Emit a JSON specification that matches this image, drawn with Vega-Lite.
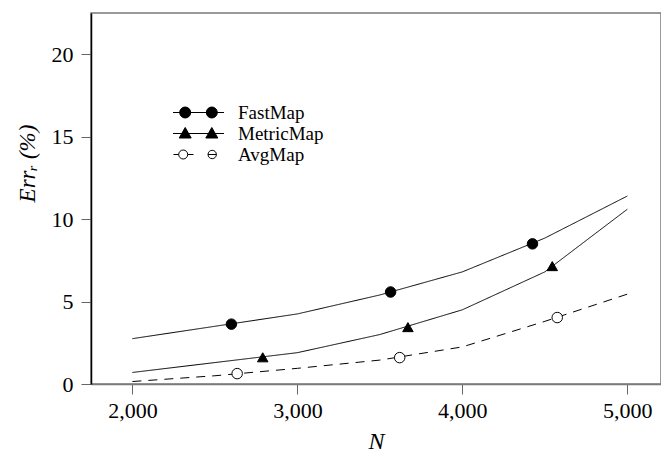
{
  "$schema": "https://vega.github.io/schema/vega-lite/v6.json",
  "autosize": "none",
  "width": 570,
  "height": 371,
  "padding": {"left": 91, "top": 13, "right": 0, "bottom": 81},
  "background": "white",
  "config": {
    "view": {"stroke": "#7a7a7a", "strokeWidth": 1.5},
    "font": "Liberation Serif",
    "axis": {
      "grid": false,
      "labelFont": "Liberation Serif",
      "labelFontSize": 22,
      "labelColor": "black",
      "tickColor": "#666666",
      "tickSize": 10,
      "tickWidth": 1,
      "titleFont": "Liberation Serif",
      "titleFontStyle": "italic",
      "titleFontWeight": "normal",
      "titleColor": "black"
    },
    "legend": {
      "labelFont": "Liberation Serif",
      "labelFontSize": 19,
      "labelColor": "black"
    }
  },
  "datasets": {
    "curve": [
      {"series": "FastMap", "N": 2000, "err": 2.75},
      {"series": "FastMap", "N": 2500, "err": 3.5},
      {"series": "FastMap", "N": 3000, "err": 4.25},
      {"series": "FastMap", "N": 3500, "err": 5.4},
      {"series": "FastMap", "N": 4000, "err": 6.8},
      {"series": "FastMap", "N": 4500, "err": 8.85},
      {"series": "FastMap", "N": 5000, "err": 11.4},
      {"series": "MetricMap", "N": 2000, "err": 0.7},
      {"series": "MetricMap", "N": 2500, "err": 1.3},
      {"series": "MetricMap", "N": 3000, "err": 1.9},
      {"series": "MetricMap", "N": 3500, "err": 3.0},
      {"series": "MetricMap", "N": 4000, "err": 4.5},
      {"series": "MetricMap", "N": 4500, "err": 6.8},
      {"series": "MetricMap", "N": 5000, "err": 10.6},
      {"series": "AvgMap", "N": 2000, "err": 0.15},
      {"series": "AvgMap", "N": 2500, "err": 0.5},
      {"series": "AvgMap", "N": 3000, "err": 0.95},
      {"series": "AvgMap", "N": 3500, "err": 1.45},
      {"series": "AvgMap", "N": 4000, "err": 2.25},
      {"series": "AvgMap", "N": 4500, "err": 3.8},
      {"series": "AvgMap", "N": 5000, "err": 5.45}
    ],
    "markers": [
      {"series": "FastMap", "N": 2600, "err": 3.63},
      {"series": "FastMap", "N": 3565, "err": 5.58},
      {"series": "FastMap", "N": 4425, "err": 8.5},
      {"series": "MetricMap", "N": 2790, "err": 1.62},
      {"series": "MetricMap", "N": 3670, "err": 3.45},
      {"series": "MetricMap", "N": 4545, "err": 7.15},
      {"series": "AvgMap", "N": 2635, "err": 0.63},
      {"series": "AvgMap", "N": 3620, "err": 1.6},
      {"series": "AvgMap", "N": 4575, "err": 4.03}
    ]
  },
  "encoding": {
    "x": {
      "field": "N",
      "type": "quantitative",
      "scale": {"domain": [1749, 5204], "nice": false, "zero": false},
      "axis": {
        "title": "N",
        "titleFontSize": 24,
        "titlePadding": 8,
        "values": [2000, 3000, 4000, 5000],
        "format": ",d",
        "labelPadding": 6,
        "domainColor": "#7a7a7a",
        "domainWidth": 1.5
      }
    },
    "y": {
      "field": "err",
      "type": "quantitative",
      "scale": {"domain": [0, 22.5], "nice": false},
      "axis": {
        "title": "Errᵣ (%)",
        "titleFontSize": 23,
        "titlePadding": 12,
        "titleY": 150,
        "values": [0, 5, 10, 15, 20],
        "labelPadding": 8,
        "domainColor": "black",
        "domainWidth": 1.5
      }
    }
  },
  "layer": [
    {
      "data": {"name": "curve"},
      "mark": {"type": "line", "color": "black", "strokeWidth": 1},
      "encoding": {
        "detail": {"field": "series"},
        "strokeDash": {"condition": {"test": "datum.series === 'AvgMap'", "value": [9, 7]}, "value": [1, 0]}
      }
    },
    {
      "data": {"name": "markers"},
      "mark": {"type": "point", "filled": true, "stroke": "black", "strokeWidth": 1, "size": 110, "opacity": 1},
      "encoding": {
        "shape": {"condition": {"test": "datum.series === 'MetricMap'", "value": "triangle-up"}, "value": "circle"},
        "fill": {"condition": {"test": "datum.series === 'AvgMap'", "value": "white"}, "value": "black"}
      }
    },
    {
      "data": {"name": "markers"},
      "mark": {"type": "point", "filled": true, "strokeWidth": 1, "size": 0, "opacity": 1},
      "encoding": {
        "shape": {
          "field": "series",
          "type": "nominal",
          "scale": {
            "domain": ["FastMap", "MetricMap", "AvgMap"],
            "range": [
              "M-2.55,0L2.55,0M-0.78,0C-0.78,0.304,-1.026,0.55,-1.33,0.55C-1.634,0.55,-1.88,0.304,-1.88,0C-1.88,-0.304,-1.634,-0.55,-1.33,-0.55C-1.026,-0.55,-0.78,-0.304,-0.78,0ZM1.88,0C1.88,0.304,1.634,0.55,1.33,0.55C1.026,0.55,0.78,0.304,0.78,0C0.78,-0.304,1.026,-0.55,1.33,-0.55C1.634,-0.55,1.88,-0.304,1.88,0Z",
              "M-2.55,0L2.55,0M-1.93,0.45L-0.73,0.45L-1.33,-0.6ZM0.73,0.45L1.93,0.45L1.33,-0.6Z",
              "M-2.5,0L-1.98,0M-1.08,0L-0.5,0M0.95,0L1.79,0M-1.08,0C-1.08,0.249,-1.282,0.45,-1.53,0.45C-1.778,0.45,-1.98,0.249,-1.98,0C-1.98,-0.249,-1.778,-0.45,-1.53,-0.45C-1.282,-0.45,-1.08,-0.249,-1.08,0ZM1.79,0C1.79,0.232,1.602,0.42,1.37,0.42C1.138,0.42,0.95,0.232,0.95,0C0.95,-0.232,1.138,-0.42,1.37,-0.42C1.602,-0.42,1.79,-0.232,1.79,0Z"
            ]
          },
          "legend": {
            "title": null,
            "orient": "none",
            "legendX": 97,
            "legendY": 89,
            "padding": 0,
            "rowPadding": 0,
            "symbolSize": 400,
            "symbolStrokeWidth": 1,
            "labelOffset": 29
          }
        },
        "fill": {
          "field": "series",
          "type": "nominal",
          "scale": {"domain": ["FastMap", "MetricMap", "AvgMap"], "range": ["black", "black", "white"]},
          "legend": {
            "title": null,
            "orient": "none",
            "legendX": 97,
            "legendY": 89,
            "padding": 0,
            "rowPadding": 0,
            "symbolSize": 400,
            "symbolStrokeWidth": 1,
            "labelOffset": 29
          }
        },
        "stroke": {
          "field": "series",
          "type": "nominal",
          "scale": {"domain": ["FastMap", "MetricMap", "AvgMap"], "range": ["black", "black", "black"]},
          "legend": {
            "title": null,
            "orient": "none",
            "legendX": 97,
            "legendY": 89,
            "padding": 0,
            "rowPadding": 0,
            "symbolSize": 400,
            "symbolStrokeWidth": 1,
            "labelOffset": 29
          }
        }
      }
    }
  ]
}
